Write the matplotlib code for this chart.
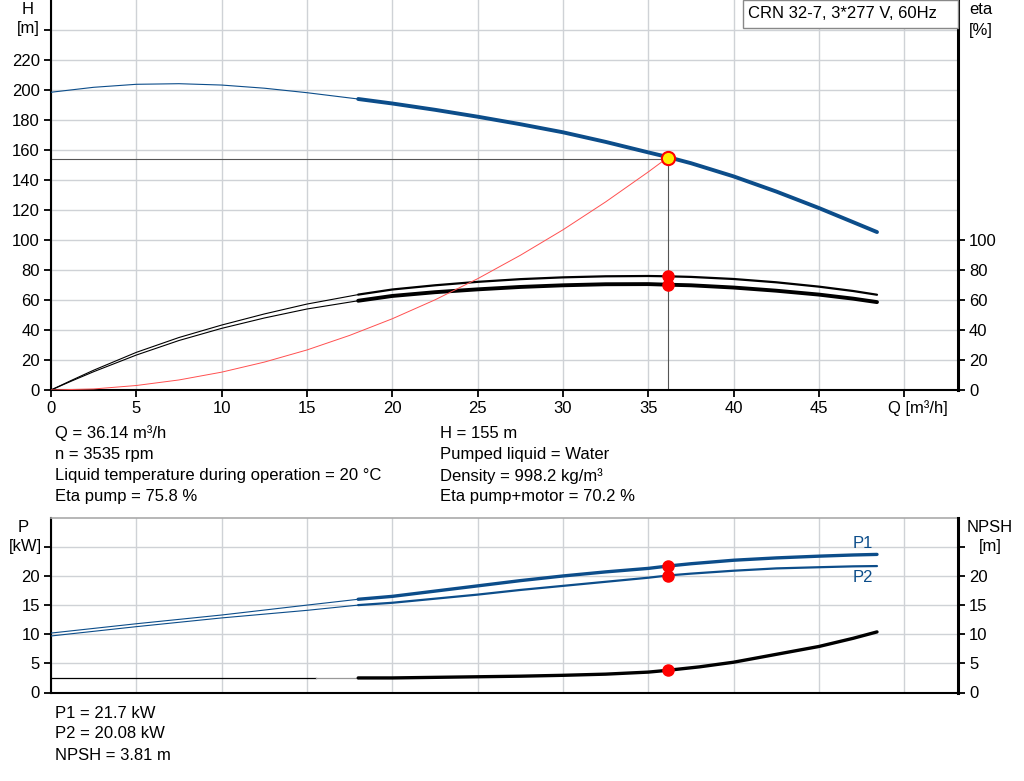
import matplotlib
matplotlib.use("Agg")
import matplotlib.pyplot as plt
from matplotlib.patches import Rectangle

plt.rcParams['font.family'] = ['Liberation Sans', 'DejaVu Sans']
FS = 12

# ---------------- data ----------------
q_h = [0, 2.5, 5, 7.5, 10, 12.5, 15, 18, 20, 22.5, 25, 27.5, 30, 32.5, 35, 36.14,
       37.5, 40, 42.5, 45, 47, 48.4]
h_vals = [198.5, 201.8, 203.8, 204.2, 203.3, 201.2, 198.2, 194, 191, 186.8, 182.2, 177.2,
          171.8, 165.4, 158.4, 155.3, 151.2, 142.4, 132.3, 121.3, 111.9, 105.3]

q_eta = [0, 1.25, 2.5, 5, 7.5, 10, 12.5, 15, 18, 20, 22.5, 25, 27.5, 30, 32.5, 35, 36.14,
         37.5, 40, 42.5, 45, 47, 48.4]
eta_pump = [0, 6.7, 13.2, 25.1, 35.0, 43.3, 50.7, 57.3, 63.6, 67.0, 69.8, 72.1, 73.9, 75.1,
            75.8, 76.0, 75.8, 75.4, 74.0, 71.8, 68.9, 66.0, 63.5]
eta_total = [0, 6.2, 12.2, 23.3, 33.0, 41.1, 48.0, 54.0, 59.5, 62.7, 65.2, 67.1, 68.7, 69.8,
             70.5, 70.6, 70.2, 69.8, 68.3, 66.2, 63.6, 60.9, 58.6]

q_sys = [0, 2.5, 5, 7.5, 10, 12.5, 15, 17.5, 20, 22.5, 25, 27.5, 30, 32.5, 35, 36.14]
h_sys = [0, 0.7, 3, 6.7, 11.9, 18.6, 26.7, 36.4, 47.5, 60.1, 74.2, 89.8, 106.8, 125.4,
         145.4, 155]

q_p = [0, 5, 10, 15, 18, 20, 22.5, 25, 27.5, 30, 32.5, 35, 36.14, 37.5, 40, 42.5, 45, 47, 48.4]
p1 = [10.2, 11.8, 13.3, 15.0, 16.0, 16.5, 17.4, 18.3, 19.2, 20.0, 20.7, 21.3, 21.7, 22.1,
      22.7, 23.1, 23.4, 23.6, 23.7]
p2 = [9.7, 11.3, 12.8, 14.1, 15.0, 15.4, 16.1, 16.8, 17.6, 18.3, 19.0, 19.7, 20.08, 20.4,
      20.9, 21.3, 21.5, 21.65, 21.7]

q_n = [0, 15.5, 18, 20, 22.5, 25, 27.5, 30, 32.5, 35, 36.14, 38, 40, 42.5, 45, 47, 48.4]
npsh = [2.5, 2.5, 2.5, 2.5, 2.6, 2.7, 2.8, 2.95, 3.15, 3.5, 3.81, 4.4, 5.2, 6.55, 7.9, 9.3, 10.4]

q_duty = 36.14
h_duty = 155
h_line = 154
eta_duty = [75.8, 70.2]
p_duty = [21.7, 20.08]
npsh_duty = 3.81
q_split = 18
q_npsh_gray = 15.5

x_ticks = [0, 5, 10, 15, 20, 25, 30, 35, 40, 45, 50]
h_ticks = list(range(0, 260, 20))
eta_ticks = [0, 20, 40, 60, 80, 100]
p_ticks = [0, 5, 10, 15, 20, 25]

info_left = ["Q = 36.14 m³/h", "n = 3535 rpm",
             "Liquid temperature during operation = 20 °C", "Eta pump = 75.8 %"]
info_right = ["H = 155 m", "Pumped liquid = Water",
              "Density = 998.2 kg/m³", "Eta pump+motor = 70.2 %"]
info_bottom = ["P1 = 21.7 kW", "P2 = 20.08 kW", "NPSH = 3.81 m"]
title_box = "CRN 32-7, 3*277 V, 60Hz"

BLUE = "#0c4d8a"
GRID = "#cfd2d6"

W, H = 1024, 781
fig = plt.figure(figsize=(W / 100, H / 100), dpi=100)


def fx(px):
    return px / W


def fy(py):
    return 1 - py / H


def split(xs, ys, s):
    a = [(x, y) for x, y in zip(xs, ys) if x <= s]
    b = [(x, y) for x, y in zip(xs, ys) if x >= s]
    return list(zip(*a)), list(zip(*b))


x_left, x_right = 51, 958
xmax = (x_right - x_left) / 17.066

# ---------------- top axes ----------------
ax = fig.add_axes([fx(x_left), fy(390), (x_right - x_left) / W, 390 / H])
ax.set_xlim(0, xmax)
ax.set_ylim(0, 260)
ax.set_xticks(x_ticks)
ax.set_xticklabels([str(t) for t in x_ticks[:-1]] + [""])
ax.set_yticks(h_ticks)
ax.set_yticklabels([str(t) for t in h_ticks[:-1]] + [""])
ax.yaxis.get_major_ticks()[-1].tick1line.set_visible(False)
ax.grid(True, color=GRID, lw=1.0, zorder=0)
ax.set_axisbelow(True)
ax.spines['top'].set_visible(False)
ax.spines['right'].set_visible(False)
for s in ['left', 'bottom']:
    ax.spines[s].set_linewidth(1.5)
ax.tick_params(axis='both', direction='out', length=5, width=1.3, labelsize=FS, pad=3)

ax2 = ax.twinx()
ax2.set_ylim(0, 260)
ax2.set_yticks(eta_ticks)
ax2.set_yticklabels([str(t) for t in eta_ticks])
for s in ['left', 'top', 'bottom']:
    ax2.spines[s].set_visible(False)
ax2.spines['right'].set_linewidth(2.2)
ax2.tick_params(axis='y', direction='out', length=5, width=1.3, labelsize=FS, pad=3)

# H curve
(a, b) = split(q_h, h_vals, q_split)
ax.plot(a[0], a[1], color=BLUE, lw=0.8, zorder=3)
ax.plot(b[0], b[1], color=BLUE, lw=2.8, zorder=3, solid_capstyle='round')
# crosshair
ax.plot([0, q_duty], [h_line, h_line], color="#555555", lw=0.8, zorder=2)
ax.plot([q_duty, q_duty], [0, h_line], color="#555555", lw=0.8, zorder=2)

# eta curves
(a, b) = split(q_eta, eta_pump, q_split)
ax2.plot(a[0], a[1], color="black", lw=0.8, zorder=3)
ax2.plot(b[0], b[1], color="black", lw=1.6, zorder=3, solid_capstyle='round')
(a, b) = split(q_eta, eta_total, q_split)
ax2.plot(a[0], a[1], color="black", lw=0.8, zorder=3)
ax2.plot(b[0], b[1], color="black", lw=2.8, zorder=3, solid_capstyle='round')
# system curve (same scale as H)
ax2.plot(q_sys, h_sys, color="#ff5050", lw=0.7, zorder=4)
ax2.plot([q_duty] * 2, eta_duty, 'o', color="red", ms=8, zorder=5)
ax2.plot([q_duty], [h_duty], 'o', mfc="#ffee00", mec="red", mew=1.5, ms=9.5, zorder=6)

# axis labels
fig.text(fx(28), fy(9), "H", ha='center', va='center', fontsize=FS)
fig.text(fx(28), fy(29), "[m]", ha='center', va='center', fontsize=FS)
fig.text(fx(981), fy(9), "eta", ha='center', va='center', fontsize=FS)
fig.text(fx(981), fy(30), "[%]", ha='center', va='center', fontsize=FS)
fig.text(fx(888), fy(408), "Q [m³/h]", ha='left', va='center', fontsize=FS)

# title box
fig.patches.append(Rectangle((fx(743), fy(28)), (958 - 743) / W, 28 / H,
                             transform=fig.transFigure, facecolor='white',
                             edgecolor='#888888', lw=1.0, zorder=10))
fig.text(fx(748), fy(14), title_box, ha='left', va='center', fontsize=FS, zorder=11)

# info text
ys = [433, 455, 476, 497]
for t, y in zip(info_left, ys):
    fig.text(fx(55), fy(y), t, ha='left', va='center', fontsize=FS)
for t, y in zip(info_right, ys):
    fig.text(fx(440), fy(y), t, ha='left', va='center', fontsize=FS)

# ---------------- bottom axes ----------------
b_top, b_bot = 517.7, 692.5
bx = fig.add_axes([fx(x_left), fy(b_bot), (x_right - x_left) / W, (b_bot - b_top) / H])
bx.set_xlim(0, xmax)
bx.set_ylim(0, 30)
bx.set_xticks(x_ticks)
bx.set_xticklabels([])
bx.tick_params(axis='x', length=0)
bx.set_yticks(p_ticks)
bx.set_yticklabels([str(t) for t in p_ticks[:-1]] + [""])
bx.grid(True, color=GRID, lw=1.0, zorder=0)
bx.set_axisbelow(True)
bx.spines['right'].set_visible(False)
bx.spines['top'].set_color('#aaaaaa')
bx.spines['top'].set_linewidth(1.2)
for s in ['left', 'bottom']:
    bx.spines[s].set_linewidth(1.5)
bx.tick_params(axis='y', direction='out', length=5, width=1.3, labelsize=FS, pad=3)

bx2 = bx.twinx()
bx2.set_ylim(0, 30)
bx2.set_yticks(p_ticks)
bx2.set_yticklabels([str(t) for t in p_ticks[:-1]] + [""])
for s in ['left', 'top', 'bottom']:
    bx2.spines[s].set_visible(False)
bx2.spines['right'].set_linewidth(2.2)
bx2.tick_params(axis='y', direction='out', length=5, width=1.3, labelsize=FS, pad=3)

(a, b) = split(q_p, p1, q_split)
bx.plot(a[0], a[1], color=BLUE, lw=0.8, zorder=3)
bx.plot(b[0], b[1], color=BLUE, lw=2.4, zorder=3, solid_capstyle='round')
(a, b) = split(q_p, p2, q_split)
bx.plot(a[0], a[1], color=BLUE, lw=0.8, zorder=3)
bx.plot(b[0], b[1], color=BLUE, lw=1.6, zorder=3, solid_capstyle='round')

na = [(x, y) for x, y in zip(q_n, npsh) if x <= q_npsh_gray]
ng = [(x, y) for x, y in zip(q_n, npsh) if q_npsh_gray <= x <= q_split]
nb = [(x, y) for x, y in zip(q_n, npsh) if x >= q_split]
bx2.plot(*zip(*na), color="black", lw=0.9, zorder=3)
bx2.plot(*zip(*ng), color="#999999", lw=0.9, zorder=3)
bx2.plot(*zip(*nb), color="black", lw=2.4, zorder=3, solid_capstyle='round')

bx2.plot([q_duty] * 2, p_duty, 'o', color="red", ms=8, zorder=5)
bx2.plot([q_duty], [npsh_duty], 'o', color="red", ms=8, zorder=5)

fig.text(fx(863), fy(543), "P1", ha='center', va='center', fontsize=FS, color=BLUE)
fig.text(fx(863), fy(578), "P2", ha='center', va='center', fontsize=FS, color=BLUE)

fig.text(fx(23), fy(527), "P", ha='center', va='center', fontsize=FS)
fig.text(fx(25), fy(546), "[kW]", ha='center', va='center', fontsize=FS)
fig.text(fx(990), fy(527), "NPSH", ha='center', va='center', fontsize=FS)
fig.text(fx(990), fy(547), "[m]", ha='center', va='center', fontsize=FS)

for t, y in zip(info_bottom, [713, 734, 756]):
    fig.text(fx(55), fy(y), t, ha='left', va='center', fontsize=FS)

fig.savefig("out.png", dpi=100, facecolor='white')
